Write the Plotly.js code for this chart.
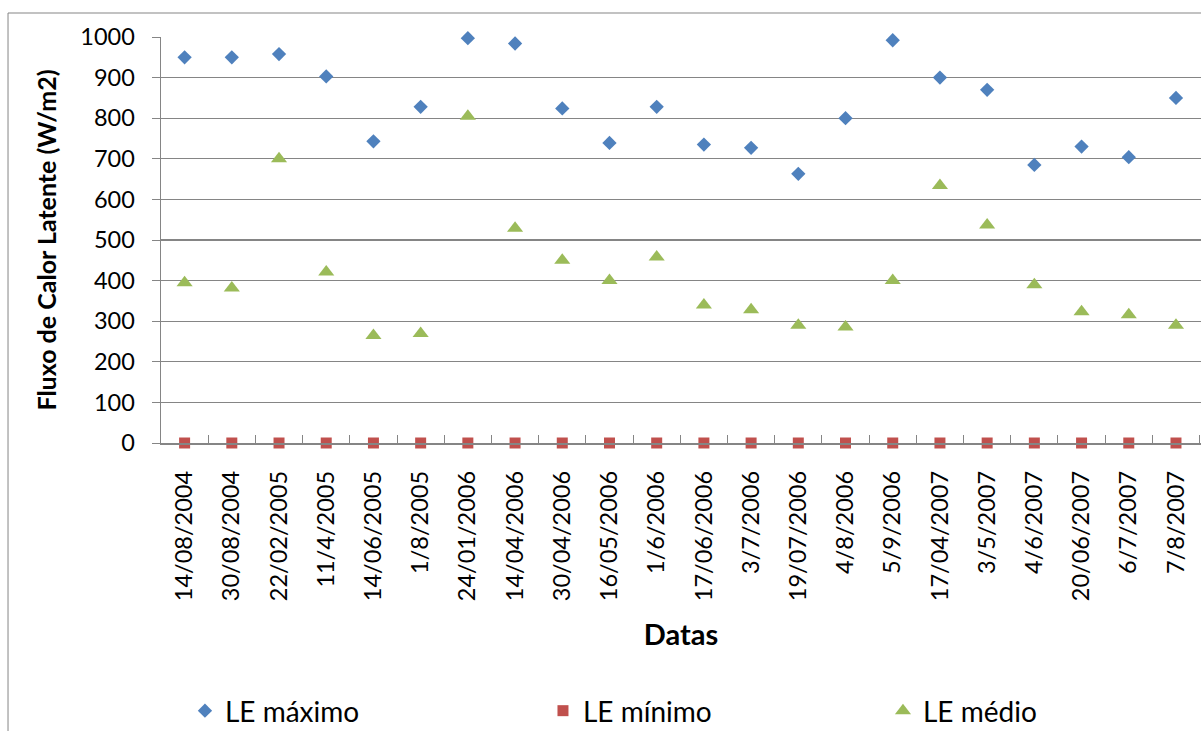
<!DOCTYPE html>
<html>
<head>
<meta charset="utf-8">
<script src="https://cdn.plot.ly/plotly-3.0.1.min.js"></script>
<style>
html,body{margin:0;padding:0;background:#fff;overflow:hidden;}
#chart{width:1201px;height:731px;}
</style>
</head>
<body>
<div id="chart"></div>
<script>
const datas = ["14/08/2004","30/08/2004","22/02/2005","11/4/2005","14/06/2005","1/8/2005","24/01/2006","14/04/2006","30/04/2006","16/05/2006","1/6/2006","17/06/2006","3/7/2006","19/07/2006","4/8/2006","5/9/2006","17/04/2007","3/5/2007","4/6/2007","20/06/2007","6/7/2007","7/8/2007"];
const leMaximo = [950, 950, 958, 903, 743, 828, 997, 984, 824, 739, 828, 735, 727, 663, 800, 992, 900, 870, 685, 730, 704, 850];
const leMinimo = [0, 0, 0, 0, 0, 0, 0, 0, 0, 0, 0, 0, 0, 0, 0, 0, 0, 0, 0, 0, 0, 0];
const leMedio  = [395, 382, 700, 421, 265, 270, 805, 529, 450, 400, 458, 340, 328, 290, 286, 400, 634, 537, 390, 323, 316, 290];
const seriesNames = ["LE máximo", "LE mínimo", "LE médio"];

const FONT = "Lato, Carlito, Calibri, 'Open Sans', sans-serif";
const GRID = "#858585";

const traces = [
  {x: datas, y: leMaximo, name: seriesNames[0], type: "scatter", mode: "markers", cliponaxis: false,
   legend: "legend",
   marker: {symbol: "diamond", size: 11, color: "#4F81BD"}},
  {x: datas, y: leMinimo, name: seriesNames[1], type: "scatter", mode: "markers", cliponaxis: false,
   legend: "legend2",
   marker: {symbol: "square", size: 11, color: "#C0504D"}},
  {x: datas, y: leMedio, name: seriesNames[2], type: "scatter", mode: "markers", cliponaxis: false,
   legend: "legend3",
   marker: {symbol: "triangle-up", size: 14, color: "#9BBB59"}}
];

function leg(xc) {
  return {
    orientation: "h",
    xref: "container", yref: "container",
    x: xc, xanchor: "left",
    y: 0.0274, yanchor: "middle",
    font: {family: FONT, size: 28, color: "#000"},
    bgcolor: "rgba(0,0,0,0)", borderwidth: 0
  };
}

const layout = {
  width: 1201, height: 731,
  margin: {l: 161, r: 0, t: 37, b: 288, pad: 0},
  paper_bgcolor: "#ffffff", plot_bgcolor: "#ffffff",
  font: {family: FONT, color: "#000000", size: 23},
  showlegend: true,
  xaxis: {
    type: "category",
    range: [-0.5, 21.53],
    showline: true, linecolor: GRID, linewidth: 1.5,
    showgrid: false, zeroline: false,
    ticks: "inside", tickson: "boundaries", ticklen: 8, tickcolor: GRID, tickwidth: 1,
    tickangle: -90,
    tickfont: {family: FONT, size: 23.5, color: "#000"},
    ticklabelstandoff: 17,
    title: {text: "<b>Datas</b>", font: {family: FONT, size: 29, color: "#000"}, standoff: 24},
    automargin: false, fixedrange: true
  },
  yaxis: {
    range: [0, 1000], dtick: 100, tick0: 0,
    showline: true, linecolor: GRID, linewidth: 1.5,
    showgrid: true, gridcolor: GRID, gridwidth: 1.2,
    zeroline: false,
    ticks: "outside", ticklen: 8, tickcolor: GRID, tickwidth: 1,
    tickfont: {family: FONT, size: 23.5, color: "#000"},
    ticklabelstandoff: 12,
    title: {text: "<b>Fluxo de Calor Latente (W/m2)</b>", font: {family: FONT, size: 25, color: "#000"}, standoff: 16},
    automargin: false, fixedrange: true
  },
  legend: leg(0.154),
  legend2: leg(0.4521),
  legend3: leg(0.7352),
  shapes: [
    {type: "rect", xref: "paper", yref: "paper",
     x0: -0.1471, x1: 1.2, y0: -2, y1: 1.0591,
     line: {color: GRID, width: 1}, fillcolor: "rgba(0,0,0,0)", layer: "below"}
  ]
};

Plotly.newPlot("chart", traces, layout, {displayModeBar: false, staticPlot: true});
</script>
</body>
</html>
